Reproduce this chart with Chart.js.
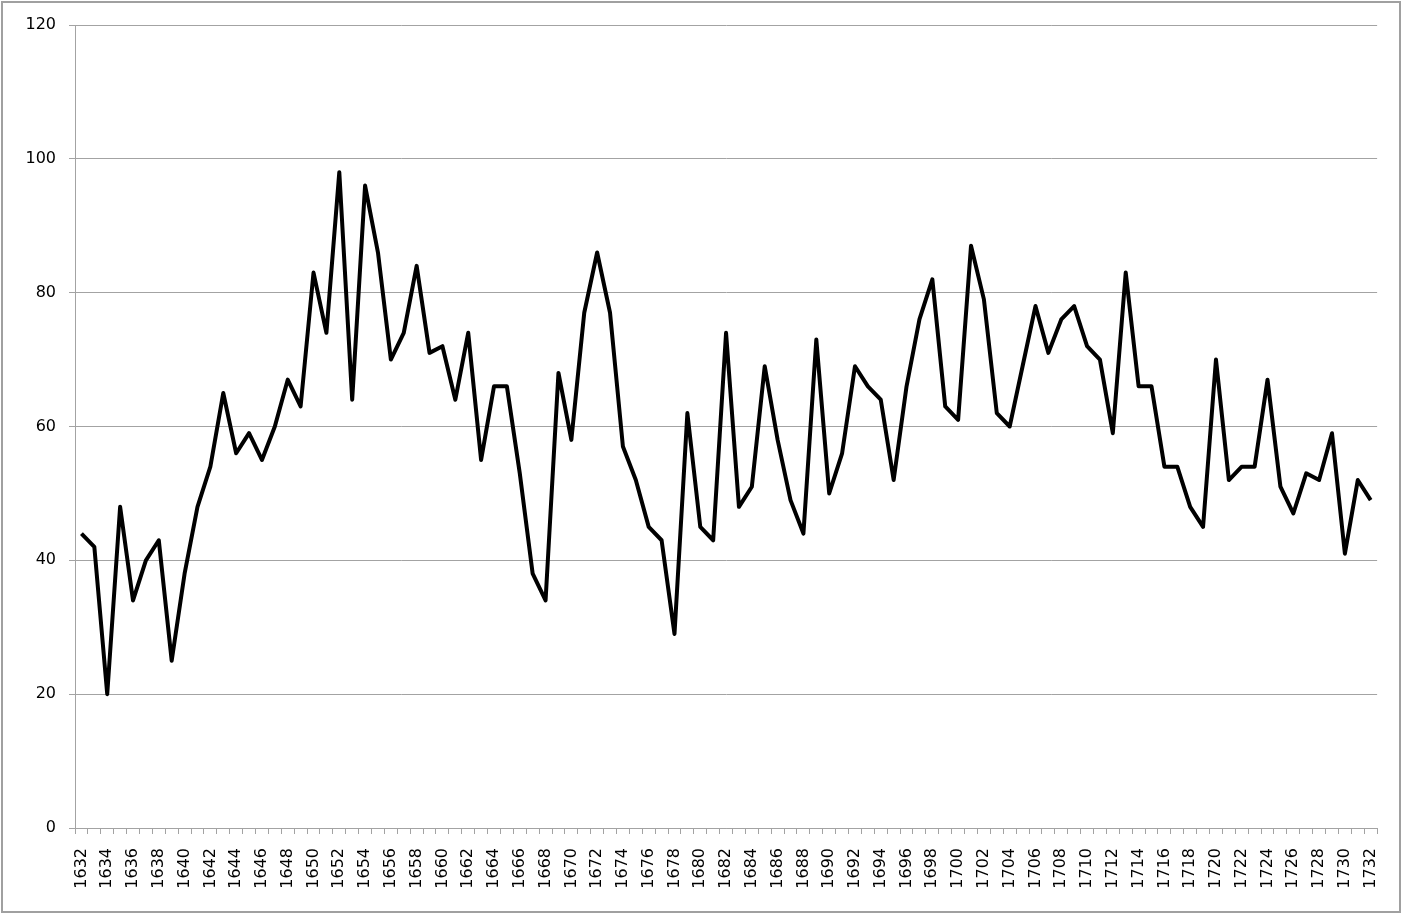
<!DOCTYPE html>
<html>
<head>
<meta charset="utf-8">
<script src="https://cdn.jsdelivr.net/npm/chart.js@4"></script>
<style>
  html, body { margin: 0; padding: 0; background: #fff; }
  #wrap { width: 1404px; height: 914px; position: relative; }
</style>
</head>
<body>
<div id="wrap"><canvas id="chart"></canvas></div>
<script>
  // years 1632..1732, one value per year
  const years = [];
  for (let y = 1632; y <= 1732; y++) years.push(String(y));

  const values = [
    44, 42, 20, 48, 34, 40, 43, 25, 38, 48,   // 1632-1641
    54, 65, 56, 59, 55, 60, 67, 63, 83, 74,   // 1642-1651
    98, 64, 96, 86, 70, 74, 84, 71, 72, 64,   // 1652-1661
    74, 55, 66, 66, 53, 38, 34, 68, 58, 77,   // 1662-1671
    86, 77, 57, 52, 45, 43, 29, 62, 45, 43,   // 1672-1681
    74, 48, 51, 69, 58, 49, 44, 73, 50, 56,   // 1682-1691
    69, 66, 64, 52, 66, 76, 82, 63, 61, 87,   // 1692-1701
    79, 62, 60, 69, 78, 71, 76, 78, 72, 70,   // 1702-1711
    59, 83, 66, 66, 54, 54, 48, 45, 70, 52,   // 1712-1721
    54, 54, 67, 51, 47, 53, 52, 59, 41, 52,   // 1722-1731
    49                                        // 1732
  ];

  const yTicks = [0, 20, 40, 60, 80, 100, 120];

  const gridGray = "#a3a3a3";
  const font = { family: "DejaVu Sans", size: 16 };

  const frame = {
    id: "frame",
    beforeDraw(chart) {
      const ctx = chart.ctx;
      ctx.save();
      ctx.strokeStyle = "#a0a0a0";
      ctx.lineWidth = 2;
      ctx.strokeRect(2, 2, 1398, 910);
      ctx.restore();
    },
  };

  new Chart(document.getElementById("chart").getContext("2d"), {
    type: "line",
    data: {
      labels: years,
      datasets: [{
        data: values,
        borderColor: "#000",
        borderWidth: 4,
        borderJoinStyle: "round",
        pointRadius: 0,
        tension: 0,
        fill: false,
      }],
    },
    options: {
      animation: false,
      responsive: true,
      maintainAspectRatio: false,
      layout: { padding: { left: 0, top: 25, right: 26, bottom: 0 } },
      plugins: { legend: { display: false }, tooltip: { enabled: false } },
      scales: {
        x: {
          type: "category",
          offset: true,
          afterFit: (s) => { s.height = 86; },
          grid: { offset: true, drawOnChartArea: false, drawTicks: true, tickLength: 6, color: gridGray },
          border: { display: true, color: gridGray },
          ticks: {
            autoSkip: false,
            minRotation: 90,
            maxRotation: 90,
            padding: 14,
            color: "#000",
            font,
            callback: (v, i) => (i % 2 === 0 ? years[i] : ""),
          },
        },
        y: {
          min: 0,
          max: 120,
          afterFit: (s) => { s.width = 75; },
          afterBuildTicks: (s) => { s.ticks = yTicks.map((v) => ({ value: v })); },
          grid: { color: gridGray, tickLength: 6, drawTicks: true },
          border: { display: true, color: gridGray },
          ticks: { padding: 13, color: "#000", font },
        },
      },
    },
    plugins: [frame],
  });
</script>
</body>
</html>
